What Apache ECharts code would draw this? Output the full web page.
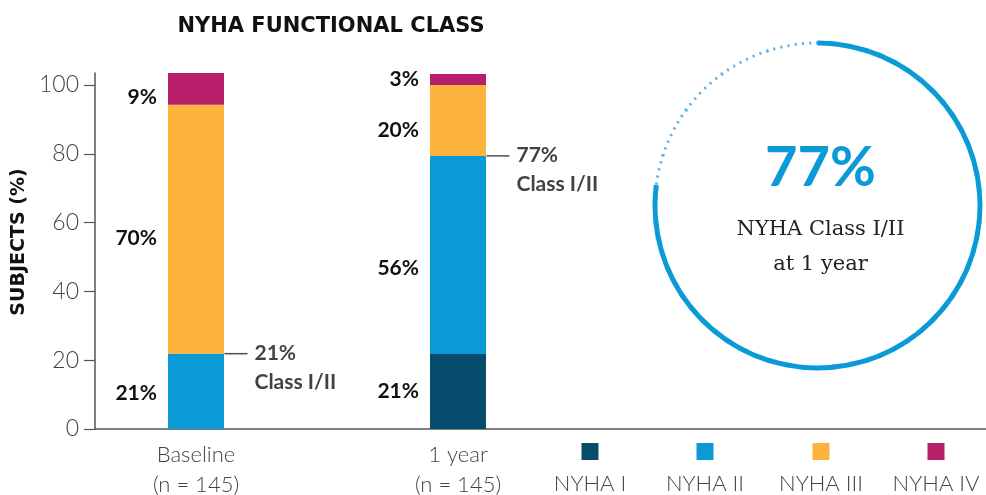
<!DOCTYPE html>
<html>
<head>
<meta charset="utf-8">
<script src="https://cdn.jsdelivr.net/npm/echarts@6/dist/echarts.min.js"></script>
<style>
  html, body { margin: 0; padding: 0; background: #fff; }
  #chart { width: 986px; height: 495px; }
</style>
</head>
<body>
<div id="chart"></div>
<script>
// categories
const categories = ["Baseline\n(n = 145)", "1 year\n(n = 145)"];

// stacked segments, as drawn (percent of subjects)
const nyha1 = [null, 21.8];
const nyha2 = [21.9, 57.6];
const nyha3 = [72.4, 20.6];
const nyha4 = [9.3, 3.2];

// printed labels
const lbl1 = ["", "21%"];
const lbl2 = ["21%", "56%"];
const lbl3 = ["70%", "20%"];
const lbl4 = ["9%", "3%"];
const classLabels = ["21%", "77%"];

const yTicks = [0, 20, 40, 60, 80, 100];
const legendNames = ["NYHA I", "NYHA II", "NYHA III", "NYHA IV"];
const colors = ["#064c6d", "#0c9ad7", "#fbb33b", "#b71f6a"];

const classOneYear = 77;

const chart = echarts.init(document.getElementById("chart"));

const FONT = "Lato";
// labels in the original sit a little below the segment middle
const labelDy = [[0, 0], [2, 13], [9, 10], [8, 0]];

const barSeries = [nyha1, nyha2, nyha3, nyha4].map((vals, k) => {
  const texts = [lbl1, lbl2, lbl3, lbl4][k];
  return {
    name: legendNames[k],
    type: "bar",
    stack: "total",
    barWidth: 56,
    itemStyle: { color: colors[k] },
    label: {
      show: true,
      position: "left",
      distance: 11,
      color: "#111",
      fontFamily: FONT,
      fontWeight: "bold",
      fontSize: 21,
      formatter: (p) => texts[p.dataIndex],
    },
    data: vals.map((v, i) => ({
      value: v,
      label: { offset: [0, labelDy[k][i]] },
    })),
  };
});

// callout: top of Class I + II
const classTop = categories.map((c, i) => (nyha1[i] || 0) + nyha2[i]);

const legendCenters = [590, 705, 821, 936];
const legendGraphic = [];
legendNames.forEach((n, i) => {
  legendGraphic.push({
    type: "rect",
    left: legendCenters[i] - 8.5,
    top: 443,
    shape: { width: 17, height: 17 },
    style: { fill: colors[i] },
  });
  legendGraphic.push({
    type: "text",
    x: legendCenters[i],
    y: 484,
    style: {
      text: n,
      fill: "#444",
      font: "300 22px Lato",
      textAlign: "center",
      textVerticalAlign: "middle",
    },
  });
});

const axisGrey = { color: "#555", width: 1.5 };

chart.setOption({
  animation: false,
  title: {
    text: "NYHA FUNCTIONAL CLASS",
    left: 326,
    textAlign: "center",
    top: 11,
    textStyle: {
      fontFamily: "DejaVu Sans",
      fontWeight: "bold",
      fontSize: 21,
      color: "#111",
    },
  },
  grid: [
    { left: 65, width: 524, top: 73, bottom: 66, outerBoundsMode: "none" },
    { left: 95, right: 0, top: 73, bottom: 66, outerBoundsMode: "none" },
  ],
  xAxis: [
    {
      gridIndex: 0,
      type: "category",
      data: categories,
      axisLine: { show: false },
      axisTick: { show: false },
      axisLabel: {
        color: "#444",
        fontFamily: FONT,
        fontWeight: 300,
        fontSize: 22,
        lineHeight: 30,
        margin: 11,
      },
    },
    {
      gridIndex: 1,
      type: "value",
      min: 0,
      max: 1,
      splitLine: { show: false },
      axisTick: { show: false },
      axisLabel: { show: false },
      axisLine: { show: true, lineStyle: axisGrey },
    },
  ],
  yAxis: [
    { gridIndex: 0, type: "value", min: 0, max: 103.5, show: false },
    {
      gridIndex: 1,
      type: "value",
      min: 0,
      max: 103.5,
      name: "SUBJECTS (%)",
      nameLocation: "middle",
      nameRotate: 90,
      nameGap: 64,
      nameTextStyle: {
        fontFamily: "DejaVu Sans",
        fontWeight: "bold",
        fontSize: 19,
        color: "#111",
        padding: [0, 0, 0, 18],
      },
      splitLine: { show: false },
      axisLine: { show: true, lineStyle: axisGrey },
      axisTick: {
        show: true,
        customValues: yTicks,
        length: 11,
        lineStyle: { color: "#555", width: 1.2 },
      },
      axisLabel: {
        customValues: yTicks,
        color: "#444",
        fontFamily: FONT,
        fontWeight: 300,
        fontSize: 23,
        margin: 16,
      },
    },
  ],
  series: [
    ...barSeries,
    {
      type: "scatter",
      z: 5,
      symbol: "rect",
      symbolSize: [23, 1.5],
      symbolOffset: [40, 0],
      itemStyle: { color: "#222" },
      label: {
        show: true,
        position: "right",
        distance: 7,
        offset: [0, 14],
        color: "#111",
        fontFamily: FONT,
        fontWeight: "bold",
        fontSize: 21,
        lineHeight: 29,
        align: "left",
        formatter: (p) => classLabels[p.dataIndex] + "\nClass I/II",
      },
      data: classTop,
    },
    {
      type: "gauge",
      center: [817.5, 205.5],
      radius: 165,
      startAngle: 90,
      endAngle: -270,
      min: 0,
      max: 100,
      splitNumber: 20,
      pointer: { show: false },
      anchor: { show: false },
      axisLine: { show: false, lineStyle: { width: 0 } },
      progress: {
        show: true,
        width: 5,
        itemStyle: { color: "#0a9ad7" },
      },
      splitLine: {
        show: true,
        distance: 2,
        length: 1,
        lineStyle: { color: "#62b6e3", width: 2.3, cap: "round" },
      },
      axisTick: {
        show: true,
        splitNumber: 7,
        distance: 2,
        length: 1,
        lineStyle: { color: "#62b6e3", width: 2.3, cap: "round" },
      },
      axisLabel: { show: false },
      title: {
        show: true,
        offsetCenter: [3, 42],
        color: "#222",
        fontFamily: "DejaVu Serif",
        fontSize: 21,
        lineHeight: 35,
      },
      detail: {
        show: true,
        offsetCenter: [3, -38],
        formatter: "{value}%",
        color: "#0a9ad7",
        fontFamily: FONT,
        fontWeight: "bold",
        fontSize: 56,
      },
      data: [{ value: classOneYear, name: "NYHA Class I/II\nat 1 year" }],
    },
  ],
  graphic: legendGraphic,
});
</script>
</body>
</html>
